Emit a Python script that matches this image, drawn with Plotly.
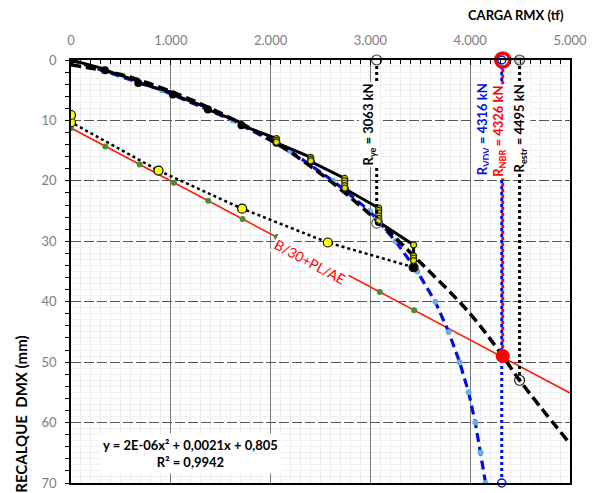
import plotly.graph_objects as go

# ---------------- data ----------------
# load stages (tf) and settlement at start / end of each stage (mm)
stage_load = [0, 340, 674, 1020, 1372, 1708, 2059, 2402, 2743, 3083, 3433]
stage_set_ini = [0.0, 1.5, 3.5, 5.4, 7.9, 10.4, 13.0, 16.1, 19.6, 24.5, 30.6]
stage_set_fin = [0.0, 1.7, 3.8, 5.7, 8.2, 10.8, 13.7, 16.8, 21.3, 26.8, 34.3]

# creep readings inside stages (yellow markers)
creep_load = [2059, 2059, 2059, 2402, 2402, 2402,
              2743, 2743, 2743, 2743, 2743,
              3083, 3083, 3083, 3083, 3083, 3083,
              3433, 3433, 3433, 3433]
creep_set = [13.0, 13.3, 13.6, 16.1, 16.4, 16.7,
             19.6, 20.0, 20.4, 20.8, 21.2,
             24.5, 24.9, 25.3, 25.8, 26.2, 26.6,
             30.6, 32.4, 32.8, 33.2]

# unloading
unload_load = [3433, 2573, 1715, 877, 0, 0]
unload_set = [34.3, 30.2, 24.6, 18.3, 10.3, 9.1]

# fitted curve (black dashed)
fit_load = [0, 500, 1000, 1500, 2000, 2500, 3000, 3500, 4000, 4326, 4495, 5000]
fit_set = [0.8, 2.4, 5.2, 8.8, 13.2, 18.8, 25.6, 33.5, 42.0, 49.0, 53.0, 63.5]

# Van der Veen extrapolation (blue dashed)
vdv_load = [0, 910, 1620, 2190, 2626, 2993, 3253, 3470, 3650, 3784, 3894, 3984, 4051, 4104, 4154]
vdv_set = [0, 5, 10, 15, 20, 25, 30, 35, 40, 45, 50, 55, 60, 65, 70]

# B/30 + PL/AE line
nbr_line_load = [0, 5000]
nbr_line_set = [11.25, 55.1]
nbr_pts_load = [0, 344, 688, 1031, 1375, 1719, 2063, 2406, 2750, 3094, 3438]
nbr_pts_set = [11.25, 14.3, 17.3, 20.3, 23.3, 26.3, 29.3, 32.4, 35.4, 38.4, 41.4]

# ultimate loads
r_ye, r_ye_set = 3063, 27.0
r_vdv, r_vdv_set = 4316, 70.0
r_nbr, r_nbr_set = 4326, 49.0
r_estr, r_estr_set = 4495, 53.0

x_ticks = [0, 1000, 2000, 3000, 4000, 5000]
y_ticks = [0, 10, 20, 30, 40, 50, 60, 70]

FONT = "Lato"

# build loading path: start then end of each stage
load_x, load_y = [], []
for L, a, b in zip(stage_load, stage_set_ini, stage_set_fin):
    load_x += [L, L]
    load_y += [a, b]

fig = go.Figure()

# red B/30+PL/AE line
fig.add_trace(go.Scatter(x=nbr_line_load, y=nbr_line_set, mode="lines",
                         line=dict(color="#ff1a00", width=1.6), hoverinfo="skip"))
fig.add_trace(go.Scatter(x=nbr_pts_load, y=nbr_pts_set, mode="markers",
                         marker=dict(color="#4f8b30", size=6), hoverinfo="skip"))

# VDV blue dashed
fig.add_trace(go.Scatter(x=vdv_load, y=vdv_set, mode="lines+markers",
                         line=dict(color="#0010e0", width=3.2, dash="9px,5px"),
                         marker=dict(color="#6aaee6", size=6), hoverinfo="skip"))

# fit black dashed
fig.add_trace(go.Scatter(x=fit_load, y=fit_set, mode="lines", line_shape="spline",
                         line=dict(color="black", width=3.5, dash="10px,5px"), hoverinfo="skip"))

# unloading dotted
fig.add_trace(go.Scatter(x=unload_load, y=unload_set, mode="lines+markers",
                         line=dict(color="black", width=2.5, dash="dot"),
                         marker=dict(color="#ffff00", size=9, line=dict(color="black", width=1.2)),
                         hoverinfo="skip"))

# loading solid
fig.add_trace(go.Scatter(x=load_x, y=load_y, mode="lines",
                         line=dict(color="black", width=3), hoverinfo="skip"))
fig.add_trace(go.Scatter(x=stage_load, y=stage_set_fin, mode="markers",
                         marker=dict(color="black", size=8), hoverinfo="skip"))
fig.add_trace(go.Scatter(x=creep_load, y=creep_set, mode="markers",
                         marker=dict(color="#e6e600", size=6, line=dict(color="#2a2a00", width=1.2)),
                         hoverinfo="skip"))

# vertical lines for ultimate loads
fig.add_trace(go.Scatter(x=[r_ye, r_ye], y=[0, r_ye_set], mode="lines",
                         line=dict(color="black", width=3, dash="3px,3px"), hoverinfo="skip"))
fig.add_trace(go.Scatter(x=[r_estr, r_estr], y=[0, r_estr_set], mode="lines",
                         line=dict(color="black", width=3, dash="3px,3px"), hoverinfo="skip"))
fig.add_trace(go.Scatter(x=[r_vdv, r_vdv], y=[0, r_vdv_set], mode="lines",
                         line=dict(color="#0010e0", width=3, dash="3px,3px"), hoverinfo="skip"))
fig.add_trace(go.Scatter(x=[r_nbr, r_nbr], y=[0, r_nbr_set], mode="lines",
                         line=dict(color="#ff0000", width=3, dash="0px,3px,3px,0px"), hoverinfo="skip"))

# end markers
fig.add_trace(go.Scatter(x=[r_ye, r_estr], y=[0, 0], mode="markers", cliponaxis=False,
                         marker=dict(color=["white", "#d0d0d0"], size=10,
                                     line=dict(color="#404040", width=1.2)), hoverinfo="skip"))
fig.add_trace(go.Scatter(x=[r_ye, r_estr], y=[r_ye_set, r_estr_set], mode="markers",
                         marker=dict(color="rgba(255,255,255,0)", size=10,
                                     line=dict(color=["#606060", "#202020"], width=1.2)), hoverinfo="skip"))
fig.add_trace(go.Scatter(x=[r_nbr], y=[0], mode="markers", cliponaxis=False,
                         marker=dict(color="white", size=14, line=dict(color="#ff0000", width=3.5)),
                         hoverinfo="skip"))
fig.add_trace(go.Scatter(x=[r_vdv, r_vdv], y=[0, r_vdv_set], mode="markers", cliponaxis=False,
                         marker=dict(color="white", size=8, line=dict(color="#0010e0", width=1.5)),
                         hoverinfo="skip"))
fig.add_trace(go.Scatter(x=[r_nbr], y=[r_nbr_set], mode="markers",
                         marker=dict(color="#ff0000", size=14), hoverinfo="skip"))

# dummy trace on y2 for minor grid axis
fig.add_trace(go.Scatter(x=[0], y=[0], yaxis="y2", mode="markers",
                         marker=dict(opacity=0), hoverinfo="skip"))

ann = []
lab_font = dict(family=FONT, size=13, color="black", weight="bold")
ann.append(dict(x=2990, y=10.6, text="R<sub>ye</sub> = 3063 kN", textangle=-90,
                font=dict(lab_font, color="black"), bgcolor="white", showarrow=False))
ann.append(dict(x=4135, y=11.5, text="R<sub>VDV</sub> = 4316 kN", textangle=-90,
                font=dict(lab_font, color="#0010e0"), bgcolor="white", showarrow=False))
ann.append(dict(x=4294, y=11.8, text="R<sub>NBR</sub> = 4326 kN", textangle=-90,
                font=dict(lab_font, color="#ff0000"), bgcolor="white", showarrow=False))
ann.append(dict(x=4500, y=11.3, text="R<sub>estr</sub> = 4495 kN", textangle=-90,
                font=dict(lab_font, color="black"), bgcolor="white", showarrow=False))
ann.append(dict(x=2392, y=33.3, text="B/30+PL/AE", textangle=28.4,
                font=dict(family=FONT, size=14, color="#ff0000"), bgcolor="white", showarrow=False))
ann.append(dict(x=1199, y=65.1, text="y = 2E-06x² + 0,0021x + 0,805<br>R² = 0,9942",
                font=dict(family=FONT, size=13, color="black", weight="bold"),
                bgcolor="white", showarrow=False, borderpad=3))
ann.append(dict(xref="paper", yref="paper", x=-0.1, y=0.352, xanchor="center", yanchor="top",
                text="RECALQUE&nbsp; DMX (mm)", textangle=-90,
                font=dict(family=FONT, size=15, color="black", weight="bold"), showarrow=False))
ann.append(dict(xref="paper", yref="paper", x=0.992, y=1.107, xanchor="right", yanchor="middle",
                text="CARGA RMX (tf)",
                font=dict(family=FONT, size=13, color="black", weight="bold"), showarrow=False))
for a in ann:
    a.setdefault("xref", "x")
    a.setdefault("yref", "y")

fig.update_layout(
    width=596, height=493,
    margin=dict(l=71, r=26, t=60, b=2),
    paper_bgcolor="white", plot_bgcolor="white",
    showlegend=False,
    separators=",.",
    font=dict(family=FONT),
    annotations=ann,
    xaxis=dict(side="top", range=[0, 5000], tickvals=x_ticks, tickformat=",",
               showgrid=True, gridcolor="#7a7a7a", gridwidth=1.3,
               showline=True, linecolor="black", linewidth=1.5, mirror=True,
               ticks="inside", ticklen=5, tickcolor="black",
               tickfont=dict(family=FONT, size=13, color="#808080"),
               ticklabelstandoff=8,
               minor=dict(dtick=100, showgrid=True, gridcolor="#ececec", gridwidth=1,
                          ticks="inside", ticklen=4, tickcolor="black"),
               zeroline=False, fixedrange=True),
    yaxis=dict(range=[70, 0], tickvals=y_ticks,
               showgrid=True, gridcolor="#555555", gridwidth=1.3, griddash="10px,3px",
               showline=True, linecolor="black", linewidth=1.5, mirror=True,
               ticks="outside", ticklen=4, tickcolor="black",
               tickfont=dict(family=FONT, size=13, color="#808080"),
               ticklabelstandoff=6, ticklabeloverflow="allow",
               minor=dict(dtick=2, showgrid=False, ticks="outside", ticklen=4, tickcolor="black"),
               zeroline=False, fixedrange=True),
    yaxis2=dict(overlaying="y", range=[70, 0], dtick=10, showgrid=False,
                showticklabels=False, showline=False, ticks="", zeroline=False,
                minor=dict(dtick=1, showgrid=True, gridcolor="#efefef", gridwidth=1),
                fixedrange=True),
)

fig.write_html("out.html")
